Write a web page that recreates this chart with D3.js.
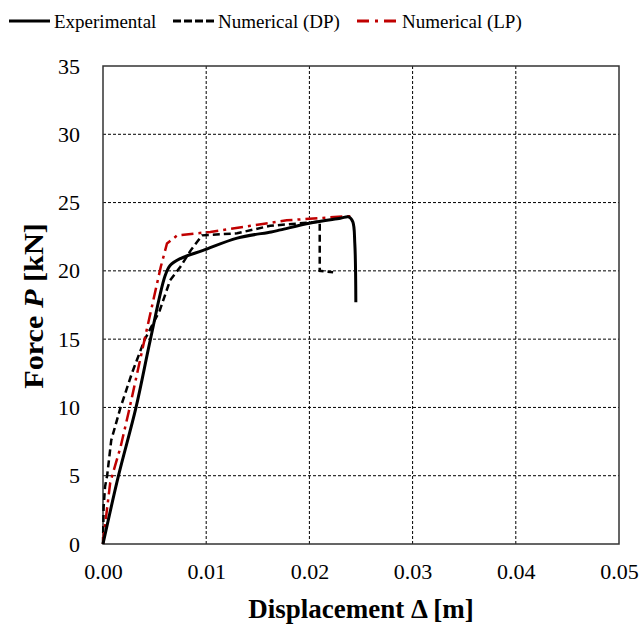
<!DOCTYPE html>
<html>
<head>
<meta charset="utf-8">
<script src="https://cdn.jsdelivr.net/npm/d3@7"></script>
<style>
  body { margin: 0; background: #fff; }
</style>
</head>
<body>
<svg id="canvas" width="643" height="628"></svg>
<script>
// displacement [m] / force [kN]
const expDisp = [0, 0.0015, 0.0032, 0.0046, 0.0060, 0.0065, 0.0075, 0.0097, 0.0130, 0.0163, 0.0172, 0.0201, 0.0230, 0.0238, 0.0242, 0.0244, 0.0245];
const expForce = [0, 5.0, 10.0, 15.0, 19.6, 20.4, 20.9, 21.5, 22.4, 22.85, 23.0, 23.5, 23.85, 23.95, 23.6, 22.0, 17.7];

const dpDisp = [0, 0.00006, 0.0002, 0.0004, 0.0008, 0.0017, 0.0028, 0.0040, 0.0055, 0.0065, 0.0075, 0.0085, 0.0096, 0.0130, 0.0162, 0.0210, 0.0210, 0.0223];
const dpForce = [0, 2.7, 4.2, 5.0, 7.6, 10.0, 12.5, 14.9, 17.1, 19.3, 20.3, 21.5, 22.6, 22.75, 23.3, 23.6, 20.0, 19.9];

const lpDisp = [0, 0.00006, 0.0007, 0.0017, 0.0025, 0.0036, 0.0043, 0.0056, 0.0062, 0.0072, 0.0104, 0.0143, 0.0178, 0.0236, 0.0241];
const lpForce = [0, 0.5, 4.5, 7.1, 9.7, 13.5, 15.9, 20.3, 22.0, 22.6, 22.85, 23.3, 23.7, 24.0, 24.0];

const xTicks = [0, 0.01, 0.02, 0.03, 0.04, 0.05];
const yTicks = [0, 5, 10, 15, 20, 25, 30, 35];

const legendNames = ["Experimental", "Numerical (DP)", "Numerical (LP)"];

const serif = "'Liberation Serif'";
const margin = { left: 103, right: 24, top: 66, bottom: 84 };
const width = 643, height = 628;

const svg = d3.select("#canvas");

const x = d3.scaleLinear().domain([0, 0.05]).range([margin.left, width - margin.right]);
const y = d3.scaleLinear().domain([0, 35]).range([height - margin.bottom, margin.top]);

// grid
svg.append("g")
  .selectAll("line")
  .data(xTicks.slice(1, -1))
  .enter()
  .append("line")
  .attr("x1", (d) => x(d)).attr("x2", (d) => x(d))
  .attr("y1", y(0)).attr("y2", y(35))
  .attr("stroke", "#000").attr("stroke-width", 1).attr("stroke-dasharray", "3,2");

svg.append("g")
  .selectAll("line")
  .data(yTicks.slice(1, -1))
  .enter()
  .append("line")
  .attr("x1", x(0)).attr("x2", x(0.05))
  .attr("y1", (d) => y(d)).attr("y2", (d) => y(d))
  .attr("stroke", "#000").attr("stroke-width", 1).attr("stroke-dasharray", "3,2");

// frame
svg.append("rect")
  .attr("x", x(0)).attr("y", y(35))
  .attr("width", x(0.05) - x(0)).attr("height", y(0) - y(35))
  .attr("fill", "none").attr("stroke", "#333").attr("stroke-width", 1.5);

// axes (labels only)
const xAxis = d3.axisBottom(x).tickValues(xTicks).tickFormat(d3.format(".2f")).tickSize(0).tickPadding(19);
const gx = svg.append("g").attr("transform", "translate(0," + y(0) + ")").call(xAxis);
gx.select(".domain").remove();
gx.selectAll("text").style("font-family", serif).style("font-size", "22px").attr("fill", "#000");

const yAxis = d3.axisLeft(y).tickValues(yTicks).tickFormat(d3.format("d")).tickSize(0).tickPadding(23);
const gy = svg.append("g").attr("transform", "translate(" + x(0) + ",0)").call(yAxis);
gy.select(".domain").remove();
gy.selectAll("text").style("font-family", serif).style("font-size", "22px").attr("fill", "#000");

// axis titles
svg.append("text")
  .attr("x", (x(0) + x(0.05)) / 2)
  .attr("y", 618)
  .attr("text-anchor", "middle")
  .style("font-family", serif).style("font-size", "27px").style("font-weight", "bold")
  .text("Displacement Δ [m]");

const yt = svg.append("text")
  .attr("transform", "translate(43,306) rotate(-90) scale(1.12,1)")
  .attr("text-anchor", "middle")
  .style("font-family", serif).style("font-size", "27px").style("font-weight", "bold");
yt.append("tspan").text("Force ");
yt.append("tspan").style("font-style", "italic").text("P");
yt.append("tspan").text(" [kN]");

// curves
const line = d3.line().x((d) => x(d[0])).y((d) => y(d[1]));
const smooth = d3.line().x((d) => x(d[0])).y((d) => y(d[1])).curve(d3.curveCatmullRom.alpha(0.5));

svg.append("path")
  .datum(dpDisp.map((d, i) => [d, dpForce[i]]))
  .attr("d", line)
  .attr("fill", "none").attr("stroke", "#000").attr("stroke-width", 2.5)
  .attr("stroke-dasharray", "7,4");

svg.append("path")
  .datum(lpDisp.map((d, i) => [d, lpForce[i]]))
  .attr("d", line)
  .attr("fill", "none").attr("stroke", "#C00000").attr("stroke-width", 2.5)
  .attr("stroke-dasharray", "12,5,3,5");

svg.append("path")
  .datum(expDisp.map((d, i) => [d, expForce[i]]))
  .attr("d", smooth)
  .attr("fill", "none").attr("stroke", "#000").attr("stroke-width", 3);

// legend
const legendItems = [
  { name: legendNames[0], x: 9, color: "#000", dash: null },
  { name: legendNames[1], x: 173, color: "#000", dash: "8,3" },
  { name: legendNames[2], x: 357, color: "#C00000", dash: "12,6,3,6" }
];
const lg = svg.append("g")
  .selectAll("g")
  .data(legendItems)
  .enter()
  .append("g")
  .attr("transform", (d) => "translate(" + d.x + ",21)");
lg.append("line")
  .attr("x1", 0).attr("x2", 41).attr("y1", 0).attr("y2", 0)
  .attr("stroke", (d) => d.color).attr("stroke-width", 3)
  .attr("stroke-dasharray", (d) => d.dash);
lg.append("text")
  .attr("x", 45).attr("y", 7)
  .style("font-family", serif).style("font-size", "19px")
  .text((d) => d.name);
</script>
</body>
</html>
